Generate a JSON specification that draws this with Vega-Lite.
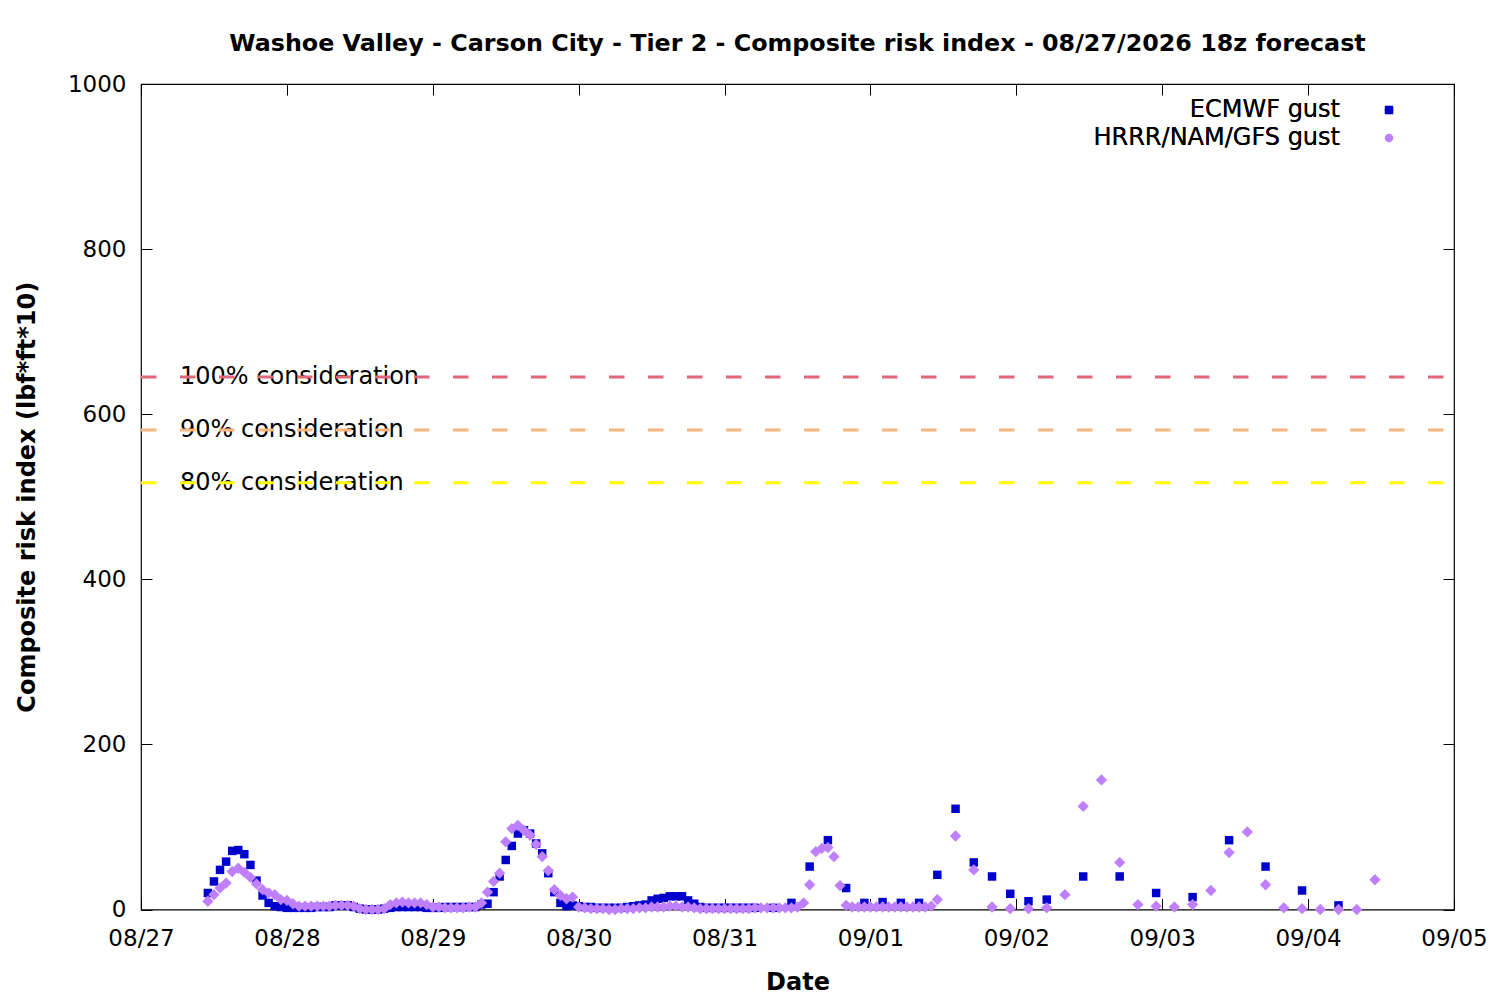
{
  "$schema": "https://vega.github.io/schema/vega-lite/v6.json",
  "autosize": "none",
  "width": 1313,
  "height": 825.5,
  "padding": {"left": 141, "top": 84, "right": 46, "bottom": 90.5},
  "background": "white",
  "title": {
    "text": "Washoe Valley - Carson City - Tier 2 - Composite risk index - 08/27/2026 18z forecast",
    "font": "DejaVu Sans",
    "fontSize": 23.8,
    "fontWeight": "bold",
    "color": "black",
    "anchor": "middle",
    "offset": 17
  },
  "datasets": {
    "ecmwf": [
      {"t":"2026-08-27T11:00","v":20},{"t":"2026-08-27T12:00","v":34},{"t":"2026-08-27T13:00","v":48},{"t":"2026-08-27T14:00","v":58},
      {"t":"2026-08-27T15:00","v":71},{"t":"2026-08-27T16:00","v":72},{"t":"2026-08-27T17:00","v":67},{"t":"2026-08-27T18:00","v":54},
      {"t":"2026-08-27T19:00","v":35},{"t":"2026-08-27T20:00","v":17},{"t":"2026-08-27T21:00","v":8},{"t":"2026-08-27T22:00","v":4},
      {"t":"2026-08-27T23:00","v":3},
      {"t":"2026-08-28T00:00","v":2},{"t":"2026-08-28T01:00","v":2},{"t":"2026-08-28T02:00","v":2},{"t":"2026-08-28T03:00","v":2},
      {"t":"2026-08-28T04:00","v":2},{"t":"2026-08-28T05:00","v":3},{"t":"2026-08-28T06:00","v":3},{"t":"2026-08-28T07:00","v":3},
      {"t":"2026-08-28T08:00","v":5},{"t":"2026-08-28T09:00","v":5},{"t":"2026-08-28T10:00","v":5},{"t":"2026-08-28T11:00","v":3},
      {"t":"2026-08-28T12:00","v":1},{"t":"2026-08-28T13:00","v":0},{"t":"2026-08-28T14:00","v":0},{"t":"2026-08-28T15:00","v":0},
      {"t":"2026-08-28T16:00","v":1},{"t":"2026-08-28T17:00","v":2},{"t":"2026-08-28T18:00","v":3},{"t":"2026-08-28T19:00","v":3},
      {"t":"2026-08-28T20:00","v":3},{"t":"2026-08-28T21:00","v":3},{"t":"2026-08-28T22:00","v":3},{"t":"2026-08-28T23:00","v":2},
      {"t":"2026-08-29T00:00","v":2},{"t":"2026-08-29T01:00","v":2},{"t":"2026-08-29T02:00","v":3},{"t":"2026-08-29T03:00","v":3},
      {"t":"2026-08-29T04:00","v":3},{"t":"2026-08-29T05:00","v":3},{"t":"2026-08-29T06:00","v":3},{"t":"2026-08-29T07:00","v":3},
      {"t":"2026-08-29T08:00","v":6},{"t":"2026-08-29T09:00","v":7},{"t":"2026-08-29T10:00","v":21},{"t":"2026-08-29T11:00","v":40},
      {"t":"2026-08-29T12:00","v":60},{"t":"2026-08-29T13:00","v":77},{"t":"2026-08-29T14:00","v":92},{"t":"2026-08-29T15:00","v":96},
      {"t":"2026-08-29T16:00","v":92},{"t":"2026-08-29T17:00","v":80},{"t":"2026-08-29T18:00","v":68},{"t":"2026-08-29T19:00","v":44},
      {"t":"2026-08-29T20:00","v":21},{"t":"2026-08-29T21:00","v":8},{"t":"2026-08-29T22:00","v":4},{"t":"2026-08-29T23:00","v":5},
      {"t":"2026-08-30T00:00","v":4},{"t":"2026-08-30T01:00","v":3},{"t":"2026-08-30T02:00","v":3},{"t":"2026-08-30T03:00","v":2},
      {"t":"2026-08-30T04:00","v":2},{"t":"2026-08-30T05:00","v":2},{"t":"2026-08-30T06:00","v":2},{"t":"2026-08-30T07:00","v":2},
      {"t":"2026-08-30T08:00","v":3},{"t":"2026-08-30T09:00","v":4},{"t":"2026-08-30T10:00","v":5},{"t":"2026-08-30T11:00","v":6},
      {"t":"2026-08-30T12:00","v":11},{"t":"2026-08-30T13:00","v":13},{"t":"2026-08-30T14:00","v":14},{"t":"2026-08-30T15:00","v":16},
      {"t":"2026-08-30T16:00","v":16},{"t":"2026-08-30T17:00","v":16},{"t":"2026-08-30T18:00","v":11},{"t":"2026-08-30T19:00","v":7},
      {"t":"2026-08-30T20:00","v":3},{"t":"2026-08-30T21:00","v":2},{"t":"2026-08-30T22:00","v":2},{"t":"2026-08-30T23:00","v":2},
      {"t":"2026-08-31T00:00","v":2},{"t":"2026-08-31T01:00","v":2},{"t":"2026-08-31T02:00","v":2},{"t":"2026-08-31T03:00","v":2},
      {"t":"2026-08-31T04:00","v":2},{"t":"2026-08-31T05:00","v":2},{"t":"2026-08-31T08:00","v":2},{"t":"2026-08-31T11:00","v":8},
      {"t":"2026-08-31T14:00","v":52},{"t":"2026-08-31T17:00","v":84},{"t":"2026-08-31T20:00","v":26},{"t":"2026-08-31T23:00","v":8},
      {"t":"2026-09-01T02:00","v":9},{"t":"2026-09-01T05:00","v":8},{"t":"2026-09-01T08:00","v":8},{"t":"2026-09-01T11:00","v":42},
      {"t":"2026-09-01T14:00","v":122},{"t":"2026-09-01T17:00","v":57},{"t":"2026-09-01T20:00","v":40},{"t":"2026-09-01T23:00","v":19},
      {"t":"2026-09-02T02:00","v":10},{"t":"2026-09-02T05:00","v":12},{"t":"2026-09-02T11:00","v":40},{"t":"2026-09-02T17:00","v":40},
      {"t":"2026-09-02T23:00","v":20},{"t":"2026-09-03T05:00","v":15},{"t":"2026-09-03T11:00","v":84},{"t":"2026-09-03T17:00","v":52},
      {"t":"2026-09-03T23:00","v":23},{"t":"2026-09-04T05:00","v":5}
    ],
    "hrrr": [
      {"t":"2026-08-27T11:00","v":10},{"t":"2026-08-27T12:00","v":18},{"t":"2026-08-27T13:00","v":26},{"t":"2026-08-27T14:00","v":32},
      {"t":"2026-08-27T15:00","v":46},{"t":"2026-08-27T16:00","v":50},{"t":"2026-08-27T17:00","v":45},{"t":"2026-08-27T18:00","v":39},
      {"t":"2026-08-27T19:00","v":31},{"t":"2026-08-27T20:00","v":24},{"t":"2026-08-27T21:00","v":20},{"t":"2026-08-27T22:00","v":18},
      {"t":"2026-08-27T23:00","v":12},
      {"t":"2026-08-28T00:00","v":11},{"t":"2026-08-28T01:00","v":7},{"t":"2026-08-28T02:00","v":4},{"t":"2026-08-28T03:00","v":4},
      {"t":"2026-08-28T04:00","v":4},{"t":"2026-08-28T05:00","v":4},{"t":"2026-08-28T06:00","v":4},{"t":"2026-08-28T07:00","v":4},
      {"t":"2026-08-28T08:00","v":5},{"t":"2026-08-28T09:00","v":5},{"t":"2026-08-28T10:00","v":5},{"t":"2026-08-28T11:00","v":4},
      {"t":"2026-08-28T12:00","v":1},{"t":"2026-08-28T13:00","v":0},{"t":"2026-08-28T14:00","v":0},{"t":"2026-08-28T15:00","v":0},
      {"t":"2026-08-28T16:00","v":1},{"t":"2026-08-28T17:00","v":6},{"t":"2026-08-28T18:00","v":8},{"t":"2026-08-28T19:00","v":9},
      {"t":"2026-08-28T20:00","v":8},{"t":"2026-08-28T21:00","v":8},{"t":"2026-08-28T22:00","v":8},{"t":"2026-08-28T23:00","v":6},
      {"t":"2026-08-29T00:00","v":3},{"t":"2026-08-29T01:00","v":3},{"t":"2026-08-29T02:00","v":2},{"t":"2026-08-29T03:00","v":2},
      {"t":"2026-08-29T04:00","v":2},{"t":"2026-08-29T05:00","v":2},{"t":"2026-08-29T06:00","v":3},{"t":"2026-08-29T07:00","v":3},
      {"t":"2026-08-29T08:00","v":8},{"t":"2026-08-29T09:00","v":21},{"t":"2026-08-29T10:00","v":34},{"t":"2026-08-29T11:00","v":44},
      {"t":"2026-08-29T12:00","v":82},{"t":"2026-08-29T13:00","v":98},{"t":"2026-08-29T14:00","v":102},{"t":"2026-08-29T15:00","v":96},
      {"t":"2026-08-29T16:00","v":90},{"t":"2026-08-29T17:00","v":79},{"t":"2026-08-29T18:00","v":64},{"t":"2026-08-29T19:00","v":47},
      {"t":"2026-08-29T20:00","v":24},{"t":"2026-08-29T21:00","v":17},{"t":"2026-08-29T22:00","v":13},{"t":"2026-08-29T23:00","v":15},
      {"t":"2026-08-30T00:00","v":3},{"t":"2026-08-30T01:00","v":2},{"t":"2026-08-30T02:00","v":1},{"t":"2026-08-30T03:00","v":1},
      {"t":"2026-08-30T04:00","v":1},{"t":"2026-08-30T05:00","v":0},{"t":"2026-08-30T06:00","v":0},{"t":"2026-08-30T07:00","v":1},
      {"t":"2026-08-30T08:00","v":1},{"t":"2026-08-30T09:00","v":1},{"t":"2026-08-30T10:00","v":2},{"t":"2026-08-30T11:00","v":2},
      {"t":"2026-08-30T12:00","v":3},{"t":"2026-08-30T13:00","v":3},{"t":"2026-08-30T14:00","v":3},{"t":"2026-08-30T15:00","v":4},
      {"t":"2026-08-30T16:00","v":4},{"t":"2026-08-30T17:00","v":3},{"t":"2026-08-30T18:00","v":3},{"t":"2026-08-30T19:00","v":2},
      {"t":"2026-08-30T20:00","v":1},{"t":"2026-08-30T21:00","v":1},{"t":"2026-08-30T22:00","v":1},{"t":"2026-08-30T23:00","v":1},
      {"t":"2026-08-31T00:00","v":1},{"t":"2026-08-31T01:00","v":1},{"t":"2026-08-31T02:00","v":1},{"t":"2026-08-31T03:00","v":1},
      {"t":"2026-08-31T04:00","v":1},{"t":"2026-08-31T05:00","v":2},{"t":"2026-08-31T06:00","v":2},{"t":"2026-08-31T07:00","v":2},
      {"t":"2026-08-31T08:00","v":2},{"t":"2026-08-31T09:00","v":2},{"t":"2026-08-31T10:00","v":2},{"t":"2026-08-31T11:00","v":2},
      {"t":"2026-08-31T12:00","v":3},{"t":"2026-08-31T13:00","v":8},{"t":"2026-08-31T14:00","v":30},{"t":"2026-08-31T15:00","v":70},
      {"t":"2026-08-31T16:00","v":74},{"t":"2026-08-31T17:00","v":75},{"t":"2026-08-31T18:00","v":64},{"t":"2026-08-31T19:00","v":29},
      {"t":"2026-08-31T20:00","v":5},{"t":"2026-08-31T21:00","v":3},{"t":"2026-08-31T22:00","v":3},{"t":"2026-08-31T23:00","v":3},
      {"t":"2026-09-01T00:00","v":3},{"t":"2026-09-01T01:00","v":3},{"t":"2026-09-01T02:00","v":3},{"t":"2026-09-01T03:00","v":3},
      {"t":"2026-09-01T04:00","v":3},{"t":"2026-09-01T05:00","v":3},{"t":"2026-09-01T06:00","v":3},{"t":"2026-09-01T07:00","v":3},
      {"t":"2026-09-01T08:00","v":3},{"t":"2026-09-01T09:00","v":3},{"t":"2026-09-01T10:00","v":4},{"t":"2026-09-01T11:00","v":12},
      {"t":"2026-09-01T14:00","v":89},{"t":"2026-09-01T17:00","v":48},{"t":"2026-09-01T20:00","v":3},{"t":"2026-09-01T23:00","v":1},
      {"t":"2026-09-02T02:00","v":1},{"t":"2026-09-02T05:00","v":2},{"t":"2026-09-02T08:00","v":18},{"t":"2026-09-02T11:00","v":125},
      {"t":"2026-09-02T14:00","v":157},{"t":"2026-09-02T17:00","v":57},{"t":"2026-09-02T20:00","v":6},{"t":"2026-09-02T23:00","v":4},
      {"t":"2026-09-03T02:00","v":3},{"t":"2026-09-03T05:00","v":6},{"t":"2026-09-03T08:00","v":23},{"t":"2026-09-03T11:00","v":69},
      {"t":"2026-09-03T14:00","v":94},{"t":"2026-09-03T17:00","v":30},{"t":"2026-09-03T20:00","v":2},{"t":"2026-09-03T23:00","v":1},
      {"t":"2026-09-04T02:00","v":0},{"t":"2026-09-04T05:00","v":0},{"t":"2026-09-04T08:00","v":0},{"t":"2026-09-04T11:00","v":36}
    ],
    "thresholds": [
      {"label": "100% consideration", "v": 645},
      {"label": "90% consideration", "v": 581},
      {"label": "80% consideration", "v": 517}
    ]
  },
  "layer": [
    {
      "layer": [
        {
          "data": {"name": "ecmwf"},
          "mark": {"type": "point", "filled": true, "opacity": 1, "size": 72, "strokeWidth": 0},
          "encoding": {
            "x": {
              "field": "t", "type": "temporal", "title": "Date",
              "scale": {"domain": [{"year": 2026, "month": 8, "date": 27}, {"year": 2026, "month": 9, "date": 5}], "nice": false},
              "axis": {
                "orient": "bottom",
                "values": [
                  {"year": 2026, "month": 8, "date": 27}, {"year": 2026, "month": 8, "date": 28}, {"year": 2026, "month": 8, "date": 29},
                  {"year": 2026, "month": 8, "date": 30}, {"year": 2026, "month": 8, "date": 31}, {"year": 2026, "month": 9, "date": 1},
                  {"year": 2026, "month": 9, "date": 2}, {"year": 2026, "month": 9, "date": 3}, {"year": 2026, "month": 9, "date": 4},
                  {"year": 2026, "month": 9, "date": 5}
                ],
                "format": "%m/%d",
                "labelPadding": 29,
                "titlePadding": 20
              }
            },
            "y": {
              "field": "v", "type": "quantitative", "title": "Composite risk index (lbf*ft*10)",
              "scale": {"domain": [0, 1000], "nice": false},
              "axis": {"orient": "left", "values": [0, 200, 400, 600, 800, 1000], "format": "d", "labelPadding": 26, "titlePadding": 28}
            },
            "color": {
              "datum": "ECMWF gust", "type": "nominal",
              "scale": {"domain": ["ECMWF gust", "HRRR/NAM/GFS gust"], "range": ["#0000cc", "#bf80ff"]},
              "legend": {"encode": {"symbols": {"update": {"size": {"signal": "datum.value === 'ECMWF gust' ? 72 : 121"}}}}}
            },
            "shape": {"datum": "ECMWF gust", "type": "nominal", "scale": {"domain": ["ECMWF gust", "HRRR/NAM/GFS gust"], "range": ["square", "diamond"]}}
          }
        },
        {
          "data": {"name": "hrrr"},
          "mark": {"type": "point", "filled": true, "opacity": 1, "size": 128, "strokeWidth": 0},
          "encoding": {
            "x": {"field": "t", "type": "temporal"},
            "y": {"field": "v", "type": "quantitative"},
            "color": {"datum": "HRRR/NAM/GFS gust", "type": "nominal"},
            "shape": {"datum": "HRRR/NAM/GFS gust", "type": "nominal"}
          }
        }
      ]
    },
    {
      "data": {"name": "thresholds"},
      "mark": {"type": "text", "align": "left", "baseline": "middle", "font": "DejaVu Sans", "fontSize": 24, "color": "black"},
      "encoding": {
        "x": {"datum": {"year": 2026, "month": 8, "date": 27, "hours": 6, "minutes": 25}, "type": "temporal", "axis": null},
        "y": {"field": "v", "type": "quantitative", "axis": null},
        "text": {"field": "label"}
      }
    },
    {
      "data": {"name": "thresholds"},
      "mark": {"type": "rule", "strokeDash": [15.5, 23.5], "strokeDashOffset": 28.5, "strokeWidth": 3},
      "encoding": {
        "y": {"field": "v", "type": "quantitative", "axis": null},
        "color": {
          "field": "label", "type": "nominal", "legend": null,
          "scale": {"domain": ["100% consideration", "90% consideration", "80% consideration"], "range": ["#e0677b", "#f7b57f", "#ffff00"]}
        }
      }
    },
    {
      "data": {"name": "ecmwf"},
      "mark": {"type": "point", "opacity": 0},
      "encoding": {
        "x": {"field": "t", "type": "temporal", "axis": {"orient": "top", "labels": false, "title": null,
          "values": [
            {"year": 2026, "month": 8, "date": 27}, {"year": 2026, "month": 8, "date": 28}, {"year": 2026, "month": 8, "date": 29},
            {"year": 2026, "month": 8, "date": 30}, {"year": 2026, "month": 8, "date": 31}, {"year": 2026, "month": 9, "date": 1},
            {"year": 2026, "month": 9, "date": 2}, {"year": 2026, "month": 9, "date": 3}, {"year": 2026, "month": 9, "date": 4},
            {"year": 2026, "month": 9, "date": 5}
          ]}},
        "y": {"field": "v", "type": "quantitative", "axis": {"orient": "right", "labels": false, "title": null, "values": [0, 200, 400, 600, 800, 1000]}}
      }
    }
  ],
  "resolve": {
    "scale": {"color": "independent"},
    "axis": {"x": "independent", "y": "independent"}
  },
  "config": {
    "view": {"stroke": "black", "strokeWidth": 1.2},
    "font": "DejaVu Sans",
    "axis": {
      "grid": false,
      "domain": false,
      "ticks": true,
      "tickSize": -11,
      "tickColor": "black",
      "tickWidth": 1,
      "labelFont": "DejaVu Sans",
      "labelFontSize": 23,
      "labelColor": "black",
      "labelFlush": false,
      "labelOverlap": false,
      "titleFont": "DejaVu Sans",
      "titleFontSize": 24,
      "titleFontWeight": "bold",
      "titleColor": "black"
    },
    "legend": {
      "orient": "none",
      "legendX": 1236,
      "legendY": 14,
      "title": null,
      "padding": 0,
      "labelFont": "DejaVu Sans",
      "labelFontSize": 24,
      "labelColor": "black",
      "labelAlign": "right",
      "labelOffset": -61,
      "labelLimit": 500,
      "rowPadding": 4,
      "symbolSize": 72,
      "symbolStrokeWidth": 0
    }
  }
}
